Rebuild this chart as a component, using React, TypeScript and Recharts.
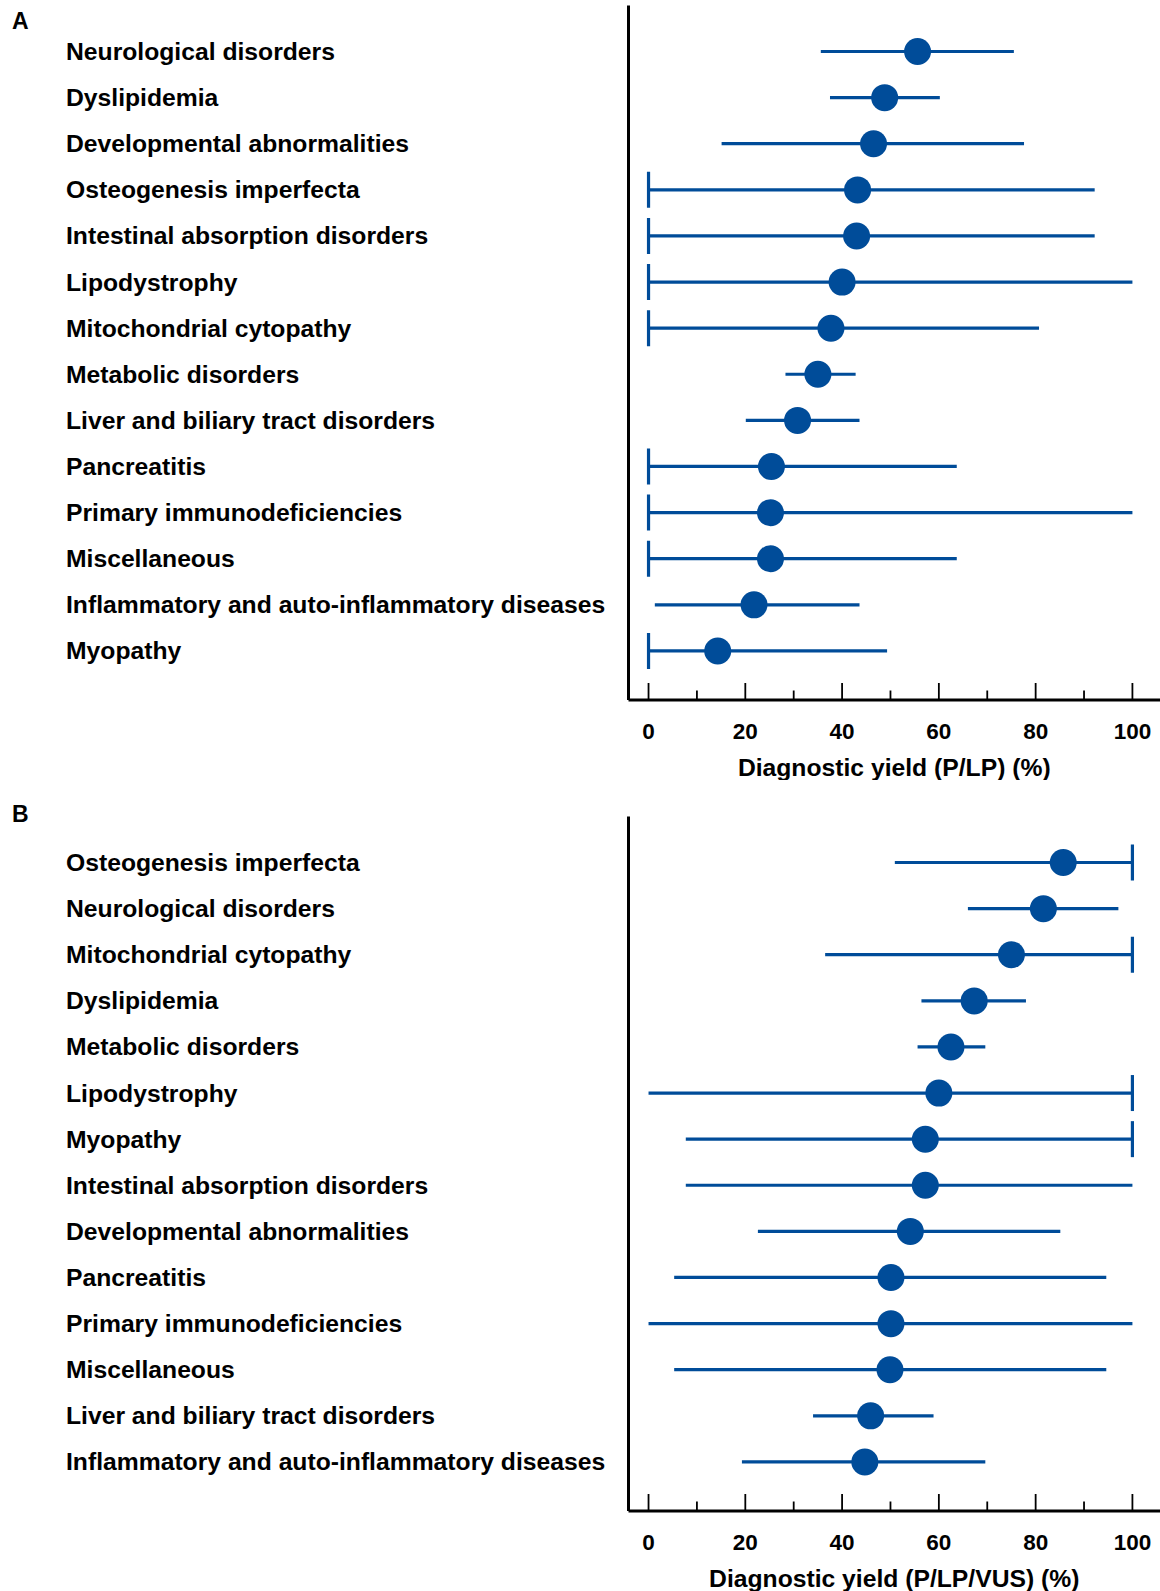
import React from "react";
import { ComposedChart, Bar, Line, XAxis, YAxis } from "recharts";

const BLUE = "#004C99";
const FONT = "'Liberation Sans', Arial, sans-serif";

const xTicks = [0, 10, 20, 30, 40, 50, 60, 70, 80, 90, 100];

// Panel A: P/LP
const catsA = [
  "Neurological disorders",
  "Dyslipidemia",
  "Developmental abnormalities",
  "Osteogenesis imperfecta",
  "Intestinal absorption disorders",
  "Lipodystrophy",
  "Mitochondrial cytopathy",
  "Metabolic disorders",
  "Liver and biliary tract disorders",
  "Pancreatitis",
  "Primary immunodeficiencies",
  "Miscellaneous",
  "Inflammatory and auto-inflammatory diseases",
  "Myopathy",
];
const ptA = [55.6, 48.8, 46.5, 43.2, 43, 40, 37.7, 35, 30.8, 25.4, 25.2, 25.2, 21.8, 14.3];
const loA = [35.6, 37.5, 15.1, 0, 0, 0, 0, 28.3, 20.1, 0, 0, 0, 1.3, 0];
const hiA = [75.5, 60.2, 77.6, 92.2, 92.2, 100, 80.7, 42.8, 43.6, 63.7, 100, 63.7, 43.6, 49.3];
const loCapA = [false, false, false, true, true, true, true, false, false, true, true, true, false, true];
const hiCapA = [false, false, false, false, false, false, false, false, false, false, false, false, false, false];

// Panel B: P/LP/VUS
const catsB = [
  "Osteogenesis imperfecta",
  "Neurological disorders",
  "Mitochondrial cytopathy",
  "Dyslipidemia",
  "Metabolic disorders",
  "Lipodystrophy",
  "Myopathy",
  "Intestinal absorption disorders",
  "Developmental abnormalities",
  "Pancreatitis",
  "Primary immunodeficiencies",
  "Miscellaneous",
  "Liver and biliary tract disorders",
  "Inflammatory and auto-inflammatory diseases",
];
const ptB = [85.7, 81.6, 75, 67.3, 62.5, 60, 57.2, 57.2, 54.1, 50.1, 50.1, 49.9, 45.9, 44.7];
const loB = [50.9, 66, 36.5, 56.4, 55.6, 0, 7.7, 7.7, 22.6, 5.3, 0, 5.3, 34, 19.3];
const hiB = [100, 97.1, 100, 78, 69.6, 100, 100, 100, 85.1, 94.6, 100, 94.6, 58.9, 69.6];
const loCapB = [false, false, false, false, false, false, false, false, false, false, false, false, false, false];
const hiCapB = [true, false, true, false, false, true, true, false, false, false, false, false, false, false];

type Row = { name: string; pt: number; lo: number; hi: number; loCap: boolean; hiCap: boolean };

const build = (cats: string[], pt: number[], lo: number[], hi: number[], lc: boolean[], hc: boolean[]): Row[] =>
  cats.map((name, i) => ({ name, pt: pt[i], lo: lo[i], hi: hi[i], loCap: lc[i], hiCap: hc[i] }));

const rowsA = build(catsA, ptA, loA, hiA, loCapA, hiCapA);
const rowsB = build(catsB, ptB, loB, hiB, loCapB, hiCapB);

const WhiskerShape = (props: any) => {
  const { x, y, width, height, payload } = props;
  const cy = y + height / 2;
  const x2 = x + width;
  return (
    <g>
      <line x1={x} y1={cy} x2={x2} y2={cy} stroke={BLUE} strokeWidth={3.2} />
      {payload.loCap && <line x1={x} y1={cy - 18} x2={x} y2={cy + 18} stroke={BLUE} strokeWidth={3.2} />}
      {payload.hiCap && <line x1={x2} y1={cy - 18} x2={x2} y2={cy + 18} stroke={BLUE} strokeWidth={3.2} />}
    </g>
  );
};

const XTick = (props: any) => {
  const { x, y, payload } = props;
  const major = payload.value % 20 === 0;
  return (
    <g>
      <line x1={x} y1={y} x2={x} y2={y - (major ? 17 : 9.5)} stroke="#000" strokeWidth={1.8} />
      {major && (
        <text x={x} y={y + 31} textAnchor="middle" dominantBaseline="central" fontFamily={FONT} fontWeight="bold" fontSize={22.5} fill="#000">
          {payload.value}
        </text>
      )}
    </g>
  );
};

const YTick = (props: any) => {
  const { y, payload } = props;
  return (
    <text x={66} y={y} textAnchor="start" dominantBaseline="central" fontFamily={FONT} fontWeight="bold" fontSize={24.7} fill="#000">
      {payload.value}
    </text>
  );
};

function Panel({ rows, title }: { rows: Row[]; title: string }) {
  return (
    <ComposedChart
      layout="vertical"
      width={1160}
      height={780}
      data={rows}
      margin={{ top: 5.5, right: 0, bottom: 0, left: 0 }}
    >
      <XAxis
        type="number"
        domain={[-4.14, 105.7]}
        ticks={xTicks}
        allowDataOverflow
        tickLine={false}
        tickSize={0}
        tickMargin={0}
        tick={<XTick />}
        axisLine={{ stroke: "#000", strokeWidth: 3 }}
        height={80}
        label={({ viewBox }: any) => (
          <text
            x={viewBox.x + viewBox.width / 2}
            y={viewBox.y + 67}
            textAnchor="middle"
            dominantBaseline="central"
            fontFamily={FONT}
            fontWeight="bold"
            fontSize={24.7}
            fill="#000"
          >
            {title}
          </text>
        )}
      />
      <YAxis
        type="category"
        dataKey="name"
        width={628.5}
        padding={{ top: 23, bottom: 26 }}
        tickLine={false}
        tick={<YTick />}
        interval={0}
        axisLine={{ stroke: "#000", strokeWidth: 3 }}
      />
      <Bar dataKey={(d: Row) => [d.lo, d.hi]} barSize={20} shape={<WhiskerShape />} isAnimationActive={false} />
      <Line
        dataKey="pt"
        stroke="none"
        strokeWidth={0}
        dot={{ r: 13.5, fill: BLUE, stroke: "none" }}
        activeDot={false}
        isAnimationActive={false}
      />
    </ComposedChart>
  );
}

const letterStyle: React.CSSProperties = {
  position: "absolute",
  left: 12,
  fontFamily: FONT,
  fontWeight: "bold",
  fontSize: 23,
  lineHeight: "23px",
  color: "#000",
};

export default function App() {
  return (
    <div style={{ position: "absolute", left: 0, top: 0, width: 1160, height: 1591, background: "#fff" }}>
      <div style={{ position: "absolute", left: 0, top: 0 }}>
        <Panel rows={rowsA} title="Diagnostic yield (P/LP) (%)" />
      </div>
      <div style={{ position: "absolute", left: 0, top: 811 }}>
        <Panel rows={rowsB} title="Diagnostic yield (P/LP/VUS) (%)" />
      </div>
      <div style={{ ...letterStyle, top: 10 }}>A</div>
      <div style={{ ...letterStyle, top: 803 }}>B</div>
    </div>
  );
}
